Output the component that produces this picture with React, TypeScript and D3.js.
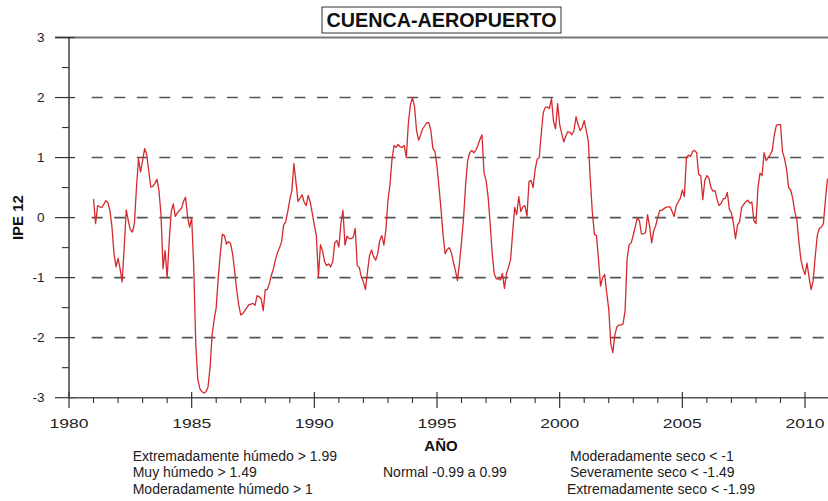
import React from "react";
import * as d3 from "d3";

// IPE 12 monthly values, Jan 1981 onward, grouped by 5-year period
const ipe1981_1985 = [
  0.31, -0.1, 0.2, 0.18, 0.17, 0.22, 0.28, 0.25, 0.12, -0.15,
  -0.6, -0.82, -0.68, -0.85, -1.07, -0.5, 0.13, -0.05, -0.2, -0.24,
  -0.1, 0.5, 0.98, 0.76, 0.95, 1.15, 1.05, 0.78, 0.51, 0.52,
  0.57, 0.64, 0.45, 0.05, -0.85, -0.55, -1.0, -0.4, 0.1, 0.23,
  0.02, 0.08, 0.12, 0.15, 0.27, 0.34, 0.01, -0.16, 0.0, -0.8,
  -2.1, -2.7, -2.85, -2.9, -2.92, -2.9, -2.82, -2.5, -1.95, -1.7,
];
const ipe1986_1990 = [
  -1.5, -1.0, -0.6, -0.28, -0.3, -0.44, -0.4, -0.43, -0.6, -0.88,
  -1.2, -1.45, -1.62, -1.6, -1.55, -1.5, -1.45, -1.44, -1.43, -1.46,
  -1.3, -1.32, -1.35, -1.55, -1.2, -1.2, -1.1, -0.96, -0.85, -0.7,
  -0.58, -0.5, -0.4, -0.12, -0.07, 0.1, 0.3, 0.45, 0.9, 0.6,
  0.27, 0.32, 0.38, 0.26, 0.2, 0.37, 0.26, 0.07, -0.13, -0.3,
  -0.99, -0.45, -0.55, -0.73, -0.8, -0.77, -0.82, -0.73, -0.42, -0.38,
];
const ipe1991_1995 = [
  -0.49, -0.1, 0.12, -0.46, -0.31, -0.35, -0.35, -0.33, -0.18, -0.8,
  -0.83, -0.99, -1.07, -1.2, -0.9, -0.63, -0.54, -0.65, -0.71, -0.6,
  -0.38, -0.3, -0.46, -0.2, 0.28, 0.55, 0.98, 1.2, 1.17, 1.22,
  1.18, 1.17, 1.2, 1.0, 1.58, 1.88, 2.0, 1.85, 1.45, 1.29,
  1.38, 1.48, 1.53, 1.58, 1.58, 1.45, 1.15, 1.1, 0.85, 0.5,
  0.12, -0.3, -0.6, -0.53, -0.5, -0.58, -0.74, -0.88, -1.05, -0.75,
];
const ipe1996_2000 = [
  -0.4, 0.0, 0.55, 0.95, 1.08, 1.12, 1.08, 1.12, 1.2, 1.3,
  1.38, 0.75, 0.62, 0.35, -0.1, -0.6, -0.93, -1.02, -1.02, -1.04,
  -0.93, -1.18, -0.93, -0.82, -0.7, -0.25, 0.17, 0.05, 0.35, 0.1,
  0.18, 0.2, 0.02, 0.6, 0.62, 0.5, 0.8, 0.97, 1.0, 1.4,
  1.75, 1.84, 1.84, 1.82, 1.98, 1.6, 1.48, 1.9, 1.55, 1.4,
  1.26, 1.36, 1.43, 1.42, 1.38, 1.45, 1.68, 1.55, 1.45, 1.5,
];
const ipe2001_2005 = [
  1.62, 1.45, 1.28, 0.62, 0.08, -0.28, -0.3, -0.7, -1.14, -1.0,
  -0.95, -1.25, -1.52, -2.1, -2.25, -1.95, -1.82, -1.79, -1.79, -1.77,
  -1.55, -0.68, -0.45, -0.42, -0.29, -0.15, 0.0, -0.05, -0.27, -0.27,
  -0.25, 0.05, -0.15, -0.42, -0.22, -0.13, 0.01, 0.12, 0.12, 0.15,
  0.17, 0.18, 0.18, 0.1, 0.02, 0.2, 0.26, 0.32, 0.46, 0.35,
  1.0, 1.04, 1.02, 1.1, 1.12, 1.08, 0.72, 0.7, 0.3, 0.62,
];
const ipe2006_2010 = [
  0.7, 0.66, 0.5, 0.44, 0.45, 0.3, 0.2, 0.24, 0.31, 0.32,
  0.42, 0.14, 0.08, -0.1, -0.35, -0.12, -0.07, 0.17, 0.22, 0.26,
  0.29, 0.24, 0.26, -0.05, -0.1, 0.5, 0.74, 0.7, 1.08, 0.95,
  1.0, 1.05, 1.12, 1.38, 1.54, 1.55, 1.55, 1.1, 0.98, 0.8,
  0.5, 0.46, 0.32, 0.1, -0.03, -0.4, -0.7, -0.85, -0.95, -0.76,
  -1.0, -1.2, -1.05, -0.65, -0.3, -0.18, -0.16, -0.1, 0.3, 0.65,
];
const startYear = 1981;

const yTicks = [-3, -2, -1, 0, 1, 2, 3];
const gridValues = [-2, -1, 0, 1, 2];
const yMinor = [-2.5, -1.5, -0.5, 0.5, 1.5, 2.5];
const xMajor = [1980, 1985, 1990, 1995, 2000, 2005, 2010];

const title = "CUENCA-AEROPUERTO";
const yLabel = "IPE 12";
const xLabel = "AÑO";
const legendLeft = ["Extremadamente húmedo > 1.99", "Muy húmedo > 1.49", "Moderadamente húmedo > 1"];
const legendMid = "Normal -0.99 a 0.99";
const legendRight = ["Moderadamente seco < -1", "Severamente seco < -1.49", "Extremadamente seco < -1.99"];

const FONT = "'Liberation Sans', Arial, Helvetica, sans-serif";

export default function App() {
  const W = 828;
  const H = 501;
  const values = [
    ...ipe1981_1985,
    ...ipe1986_1990,
    ...ipe1991_1995,
    ...ipe1996_2000,
    ...ipe2001_2005,
    ...ipe2006_2010,
  ];
  const data = values.map((v, i) => ({ t: startYear + i / 12, v }));

  const x = d3.scaleLinear().domain([1980, 2010]).range([69, 805]);
  const y = d3.scaleLinear().domain([-3, 3]).range([397.7, 37.5]);

  const line = d3
    .line<{ t: number; v: number }>()
    .x((d) => x(d.t))
    .y((d) => y(d.v));

  const xMinor = d3.range(1980, 2012).filter((yr) => yr % 5 !== 0);
  const axisX = x(1980);
  const axisY = y(-3);

  return (
    <svg
      width={W}
      height={H}
      style={{ position: "absolute", left: 0, top: 0, background: "#fff" }}
      fontFamily={FONT}
    >
      <rect x={0} y={0} width={W} height={H} fill="#fff" />

      {/* dashed gridlines */}
      {gridValues.map((g) => (
        <line
          key={"g" + g}
          x1={91.7}
          x2={W}
          y1={y(g)}
          y2={y(g)}
          stroke="#555"
          strokeWidth={1.6}
          strokeDasharray="11 11.53"
        />
      ))}

      {/* top solid line at 3 */}
      <line x1={55} x2={W} y1={y(3)} y2={y(3)} stroke="#777" strokeWidth={2} />

      {/* series */}
      <path d={line(data) || ""} fill="none" stroke="#d42a2e" strokeWidth={1.3} strokeLinejoin="round" />

      {/* y axis */}
      <line x1={axisX} x2={axisX} y1={y(3)} y2={axisY} stroke="#222" strokeWidth={1.3} />
      {yTicks.map((t) => (
        <g key={"yt" + t}>
          <line x1={55} x2={75} y1={y(t)} y2={y(t)} stroke="#333" strokeWidth={1.2} />
          <text
            x={44.5}
            y={y(t)}
            textAnchor="end"
            dominantBaseline="central"
            fontSize={13.5}
            fill="#222"
          >
            {t}
          </text>
        </g>
      ))}
      {yMinor.map((t) => (
        <line key={"ym" + t} x1={62} x2={axisX} y1={y(t)} y2={y(t)} stroke="#333" strokeWidth={1.1} />
      ))}

      {/* x axis */}
      <line x1={axisX} x2={W} y1={axisY} y2={axisY} stroke="#555" strokeWidth={1.5} />
      {xMajor.map((yr) => (
        <g key={"xt" + yr}>
          <line x1={x(yr)} x2={x(yr)} y1={392} y2={408} stroke="#333" strokeWidth={1.2} />
          <text
            x={x(yr)}
            y={428}
            textAnchor="middle"
            fontSize={13.5}
            fill="#222"
            textLength={39}
            lengthAdjust="spacingAndGlyphs"
          >
            {yr}
          </text>
        </g>
      ))}
      {xMinor.map((yr) => (
        <line key={"xm" + yr} x1={x(yr)} x2={x(yr)} y1={axisY} y2={403} stroke="#333" strokeWidth={1.1} />
      ))}

      {/* title */}
      <rect x={322} y={7} width={239} height={26} fill="#fff" stroke="#333" strokeWidth={1} />
      <text
        x={441.5}
        y={27.3}
        textAnchor="middle"
        fontSize={19.5}
        fontWeight="bold"
        fill="#111"
        textLength={230}
        lengthAdjust="spacingAndGlyphs"
      >
        {title}
      </text>

      {/* axis labels */}
      <text
        transform={`translate(17.5, ${y(0)}) rotate(-90)`}
        textAnchor="middle"
        dominantBaseline="central"
        fontSize={15}
        fontWeight="bold"
        fill="#111"
      >
        {yLabel}
      </text>
      <text x={441} y={451} textAnchor="middle" fontSize={15} fontWeight="bold" fill="#111">
        {xLabel}
      </text>

      {/* legend */}
      {legendLeft.map((s, i) => (
        <text key={"ll" + i} x={132.7} y={460.5 + i * 16.5} fontSize={14} fill="#222">
          {s}
        </text>
      ))}
      <text x={383} y={477} fontSize={14} fill="#222">
        {legendMid}
      </text>
      {legendRight.map((s, i) => (
        <text key={"lr" + i} x={i === 2 ? 567 : 570} y={460.5 + i * 16.5} fontSize={14} fill="#222">
          {s}
        </text>
      ))}
    </svg>
  );
}
